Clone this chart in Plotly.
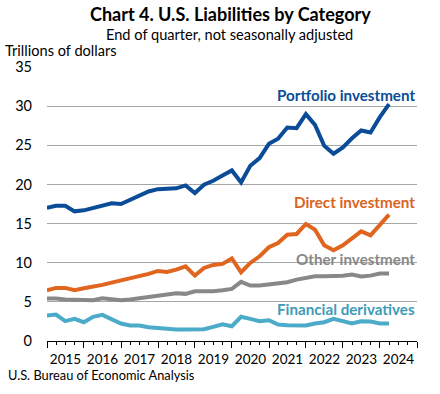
import plotly.graph_objects as go

# End-of-quarter dates, 2014 Q4 through 2024 Q1
quarters = [
    "2014-12-31", "2015-03-31", "2015-06-30", "2015-09-30", "2015-12-31",
    "2016-03-31", "2016-06-30", "2016-09-30", "2016-12-31",
    "2017-03-31", "2017-06-30", "2017-09-30", "2017-12-31",
    "2018-03-31", "2018-06-30", "2018-09-30", "2018-12-31",
    "2019-03-31", "2019-06-30", "2019-09-30", "2019-12-31",
    "2020-03-31", "2020-06-30", "2020-09-30", "2020-12-31",
    "2021-03-31", "2021-06-30", "2021-09-30", "2021-12-31",
    "2022-03-31", "2022-06-30", "2022-09-30", "2022-12-31",
    "2023-03-31", "2023-06-30", "2023-09-30", "2023-12-31",
    "2024-03-31",
]

portfolio = [17.0, 17.28, 17.28, 16.56, 16.69, 17.0, 17.28, 17.6, 17.5, 18.05,
             18.56, 19.1, 19.4, 19.4, 19.5, 19.87, 18.9, 19.96, 20.47, 21.15,
             21.79, 20.26, 22.39, 23.36, 25.19, 25.83, 27.27, 27.19, 28.98, 27.6,
             24.94, 23.92, 24.72, 25.9, 26.89, 26.64, 28.6, 30.26]

direct = [6.48, 6.78, 6.78, 6.48, 6.74, 6.91, 7.17, 7.46, 7.72, 8.06,
          8.19, 8.57, 8.95, 8.82, 9.12, 9.54, 8.35, 9.33, 9.72, 9.85,
          10.54, 8.78, 9.97, 10.82, 11.97, 12.52, 13.58, 13.67, 14.95, 14.22,
          12.22, 11.58, 12.22, 13.16, 14.01, 13.5, 14.86, 16.14]

other = [5.42, 5.42, 5.29, 5.29, 5.2, 5.2, 5.46, 5.29, 5.2, 5.29,
         5.46, 5.59, 5.72, 5.85, 6.1, 6.02, 6.35, 6.35, 6.35, 6.48,
         6.66, 7.55, 7.08, 7.08, 7.21, 7.33, 7.5, 7.84, 8.01, 8.27,
         8.27, 8.27, 8.35, 8.48, 8.23, 8.35, 8.61, 8.61]

derivatives = [3.25, 3.38, 2.53, 2.83, 2.4, 3.09, 3.34, 2.74, 2.23, 1.98,
               1.98, 1.76, 1.63, 1.51, 1.47, 1.47, 1.47, 1.51, 1.81, 2.14,
               1.89, 3.09, 2.83, 2.53, 2.66, 2.1, 2.02, 1.98, 1.98, 2.23,
               2.4, 2.83, 2.53, 2.23, 2.53, 2.49, 2.23, 2.23]

series_names = ["Portfolio investment", "Direct investment",
                "Other investment", "Financial derivatives"]
series_values = [portfolio, direct, other, derivatives]
line_colors = ["#0A4C97", "#E0651F", "#888888", "#4BABC8"]
label_colors = ["#0A4C97", "#DB6320", "#888888", "#3D9BB8"]
label_y = [0.898, 0.508, 0.300, 0.115]

y_ticks = [0, 5, 10, 15, 20, 25, 30, 35]

FONT = "Lato"

fig = go.Figure()
for name, vals, col in zip(series_names, series_values, line_colors):
    fig.add_trace(go.Scatter(
        x=quarters, y=vals, mode="lines", name=name,
        line=dict(color=col, width=4, shape="linear"),
        showlegend=False, hoverinfo="skip",
    ))


def px_to_paper_x(px):
    return (px - 47.3) / 370.0


def px_to_paper_y(py):
    return (341.5 - py) / 274.5


annotations = []
for name, col, yy in zip(series_names, label_colors, label_y):
    annotations.append(dict(
        text="<b>%s</b>" % name, x=px_to_paper_x(417), y=yy,
        xref="paper", yref="paper",
        xanchor="right", yanchor="middle", showarrow=False,
        font=dict(family=FONT, size=15.2, color=col),
    ))

annotations += [
    dict(text="<b>Chart 4. U.S. Liabilities by Category</b>",
         x=px_to_paper_x(231), y=px_to_paper_y(14), xref="paper", yref="paper",
         xanchor="center", yanchor="middle", showarrow=False,
         font=dict(family=FONT, size=18, color="#000000")),
    dict(text="End of quarter, not seasonally adjusted",
         x=px_to_paper_x(230), y=px_to_paper_y(34), xref="paper", yref="paper",
         xanchor="center", yanchor="middle", showarrow=False,
         font=dict(family=FONT, size=14.6, color="#000000")),
    dict(text="Trillions of dollars",
         x=px_to_paper_x(3), y=px_to_paper_y(50), xref="paper", yref="paper",
         xanchor="left", yanchor="middle", showarrow=False,
         font=dict(family=FONT, size=14.6, color="#000000")),
    dict(text="U.S. Bureau of Economic Analysis",
         x=px_to_paper_x(6), y=px_to_paper_y(376), xref="paper", yref="paper",
         xanchor="left", yanchor="middle", showarrow=False,
         font=dict(family=FONT, size=12.8, color="#000000")),
]

fig.update_layout(
    width=440, height=394,
    margin=dict(l=47.3, r=22.7, t=67, b=52.5, pad=0),
    paper_bgcolor="white", plot_bgcolor="white",
    font=dict(family=FONT, size=14, color="#000000"),
    annotations=annotations,
    hovermode=False,
    xaxis=dict(
        type="date",
        range=["2015-01-01", "2025-01-01"],
        tick0="2015-01-01", dtick="M12",
        tickformat="%Y", ticklabelmode="period",
        ticks="outside", ticklen=6, tickwidth=1, tickcolor="#000000",
        minor=dict(ticks="outside", ticklen=3, tickwidth=1, tickcolor="#000000",
                   dtick="M3", showgrid=False),
        showline=True, linecolor="#000000", linewidth=1,
        showgrid=False, zeroline=False,
        tickfont=dict(family=FONT, size=13.5, color="#000000"),
    ),
    yaxis=dict(
        range=[0, 35], tickvals=y_ticks,
        showgrid=True, gridcolor="#A6A6A6", gridwidth=1,
        zeroline=False, showline=False, ticks="",
        ticklabelstandoff=14,
        tickfont=dict(family=FONT, size=14.5, color="#000000"),
    ),
)

fig.write_html("out.html",
               config={"displayModeBar": False, "staticPlot": True},
               post_script="document.body.style.margin='0';document.body.style.padding='0';")
